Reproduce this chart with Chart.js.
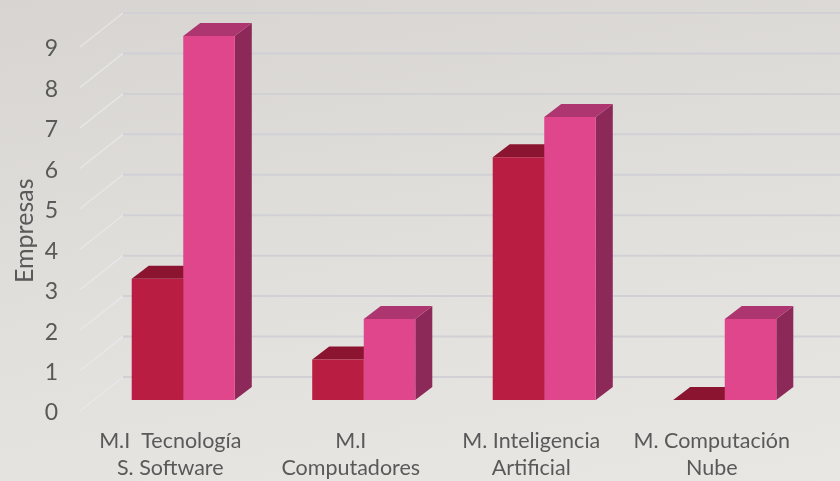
<!DOCTYPE html>
<html>
<head>
<meta charset="utf-8">
<script src="https://cdn.jsdelivr.net/npm/chart.js@4"></script>
<style>
  body { margin: 0; }
  #wrap {
    width: 840px; height: 481px; position: relative;
    background: linear-gradient(170deg, #d7d4d1 0%, #e1dfdc 50%, #e9e7e4 100%);
  }
</style>
</head>
<body>
<div id="wrap"><canvas id="myChart"></canvas></div>
<script>
const categories = [
  ['M.I  Tecnología', 'S. Software'],
  ['M.I', 'Computadores'],
  ['M. Inteligencia', 'Artificial'],
  ['M. Computación', 'Nube']
];
const serie1 = [3, 1, 6, 0];
const serie2 = [9, 2, 7, 2];
const yMin = 0;
const yMax = 9;

const ctx = document.getElementById('myChart');
const textColor = '#595959';
const fontFamily = 'Lato, "Open Sans", sans-serif';

// depth offsets for the fake 3d look
const depth = { dx: 17, dy: -13 };
const wall = { dx: 43, dy: -34 };

const backWall = {
  id: 'backWall',
  beforeDatasetsDraw(chart) {
    const c = chart.ctx;
    const y = chart.scales.y;
    const left = chart.chartArea.left;
    c.save();
    for (let v = yMin; v <= yMax; v++) {
      const py = y.getPixelForValue(v);
      const fx = left - 13, fy = py + 11;
      // diagonal side line
      c.strokeStyle = 'rgba(232,232,235,0.8)';
      c.lineWidth = 1.5;
      c.beginPath();
      c.moveTo(fx, fy);
      c.lineTo(fx + wall.dx, fy + wall.dy);
      c.stroke();
      // back wall line
      c.strokeStyle = '#d0d0d5';
      c.lineWidth = 2;
      c.beginPath();
      c.moveTo(fx + wall.dx, fy + wall.dy);
      c.lineTo(chart.width, fy + wall.dy);
      c.stroke();
    }
    c.restore();
  }
};

const bars3d = {
  id: 'bars3d',
  beforeDatasetsDraw(chart) {
    const c = chart.ctx;
    c.save();
    chart.data.datasets.forEach((ds, i) => {
      const meta = chart.getDatasetMeta(i);
      meta.data.forEach(bar => {
        const p = bar.getProps(['x', 'y', 'base', 'width'], true);
        const x0 = p.x - p.width / 2, x1 = p.x + p.width / 2;
        // side
        c.fillStyle = ds.sideColor;
        c.beginPath();
        c.moveTo(x1, p.y);
        c.lineTo(x1 + depth.dx, p.y + depth.dy);
        c.lineTo(x1 + depth.dx, p.base + depth.dy);
        c.lineTo(x1, p.base);
        c.closePath();
        c.fill();
        // top
        c.fillStyle = ds.topColor;
        c.beginPath();
        c.moveTo(x0, p.y);
        c.lineTo(x1, p.y);
        c.lineTo(x1 + depth.dx, p.y + depth.dy);
        c.lineTo(x0 + depth.dx, p.y + depth.dy);
        c.closePath();
        c.fill();
      });
    });
    c.restore();
  }
};

new Chart(ctx, {
  type: 'bar',
  data: {
    labels: categories,
    datasets: [{
      label: 'Serie 1',
      data: serie1,
      backgroundColor: '#b91d42',
      topColor: '#8b1530',
      sideColor: '#7a1229',
      borderWidth: 0,
      barPercentage: 1,
      categoryPercentage: 0.571
    }, {
      label: 'Serie 2',
      data: serie2,
      backgroundColor: '#e0468c',
      topColor: '#ad3670',
      sideColor: '#8c2959',
      borderWidth: 0,
      barPercentage: 1,
      categoryPercentage: 0.571
    }]
  },
  options: {
    responsive: true,
    maintainAspectRatio: false,
    animation: false,
    layout: { padding: { top: 36, right: 25, left: 0, bottom: 0 } },
    plugins: {
      legend: { display: false },
      tooltip: { enabled: false }
    },
    scales: {
      x: {
        grid: { display: false, drawTicks: false },
        border: { display: false },
        ticks: {
          color: textColor,
          font: { family: fontFamily, size: 21.5, lineHeight: 1.25 },
          padding: 28,
          labelOffset: -13,
          maxRotation: 0,
          autoSkip: false
        },
        afterFit(scale) {
          scale.height = 81;
          scale.paddingLeft = 0;
          scale.paddingRight = 0;
        }
      },
      y: {
        min: yMin,
        max: yMax,
        grid: { display: false, drawTicks: false },
        border: { display: false },
        ticks: {
          stepSize: 1,
          color: textColor,
          font: { family: fontFamily, size: 23 },
          padding: 35,
          labelOffset: 13
        },
        title: {
          display: true,
          // trailing spaces nudge the rotated title down a little
          text: 'Empresas\u00a0\u00a0\u00a0\u00a0',
          color: textColor,
          font: { family: fontFamily, size: 25 },
          padding: { top: 10, bottom: 0 }
        },
        afterFit(scale) {
          scale.width = 93;
          scale.paddingTop = 0;
          scale.paddingBottom = 0;
        }
      }
    }
  },
  plugins: [backWall, bars3d]
});
</script>
</body>
</html>
